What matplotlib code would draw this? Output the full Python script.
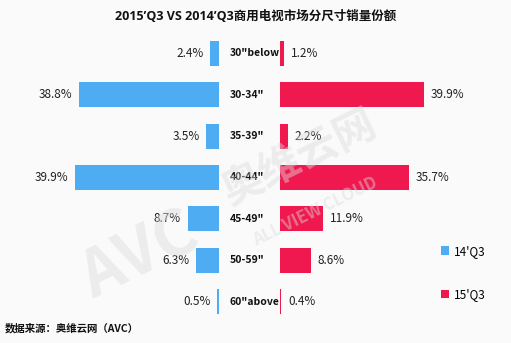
import matplotlib.pyplot as plt
from matplotlib import transforms

plt.rcParams['font.family'] = ['Noto Sans CJK SC', 'DejaVu Sans']

sizes = ['30"below', '30-34"', '35-39"', '40-44"', '45-49"', '50-59"', '60"above']
share_14q3 = [2.4, 38.8, 3.5, 39.9, 8.7, 6.3, 0.5]
share_15q3 = [1.2, 39.9, 2.2, 35.7, 11.9, 8.6, 0.4]
labels = ["14'Q3", "15'Q3"]

blue = '#4eacf2'
red = '#f0194f'
bg = '#fafafa'

W, H = 511, 343
fig = plt.figure(figsize=(W / 100, H / 100), dpi=100, facecolor=bg)

# axes in pixel terms -> figure fractions
top, bottom = 32.8, 322.2
ax_l = fig.add_axes([19 / W, (H - bottom) / H, 200 / W, (bottom - top) / H])
ax_r = fig.add_axes([280 / W, (H - bottom) / H, 200 / W, (bottom - top) / H])

y = list(range(len(sizes)))
bl = ax_l.barh(y, share_14q3, height=0.6, color=blue, label=labels[0])
br = ax_r.barh(y, share_15q3, height=0.6, color=red, label=labels[1])

ax_l.set_xlim(55.4, 0)
ax_r.set_xlim(0, 55.4)
for ax in (ax_l, ax_r):
    ax.set_ylim(len(sizes) - 0.5, -0.5)
    ax.axis('off')
    ax.patch.set_alpha(0)

ax_l.bar_label(bl, labels=[f'{v}%' for v in share_14q3], padding=5, fontsize=8.5, color='#222222')
ax_r.bar_label(br, labels=[f'{v}%' for v in share_15q3], padding=5, fontsize=8.5, color='#222222')

tr = transforms.blended_transform_factory(fig.transFigure, ax_l.transData)
for i, s in enumerate(sizes):
    fig.text(230 / W, i, s, transform=tr, ha='left', va='center',
             fontsize=7.5, fontweight='bold', color='#111111')

fig.text(0.5, 1 - 17 / H, "2015\u2019Q3 VS 2014\u2019Q3商用电视市场分尺寸销量份额",
         ha='center', va='center', fontsize=9, fontweight='bold', color='#111111',
         family=['Open Sans', 'Noto Sans CJK SC'])
fig.text(5 / W, 1 - 328 / H, "数据来源：奥维云网（AVC）", ha='left', va='center',
         fontsize=7.5, fontweight='bold', color='#111111')

fig.legend(handles=[bl, br], loc='upper left', bbox_to_anchor=(430 / W, 1 - 234 / H),
           frameon=False, fontsize=8.5, handlelength=0.7, handleheight=0.7,
           handletextpad=0.4, labelspacing=2.6)

# watermark drawn over everything, semi transparent
wm = dict(color='#dcdcdc', alpha=0.45, ha='center', va='center', rotation=26,
          fontweight='bold', zorder=10)
fig.text(140 / W, 1 - 255 / H, "AVC", fontsize=46, **wm)
fig.text(300 / W, 1 - 158 / H, "奥维云网", fontsize=30, **wm)
fig.text(315 / W, 1 - 212 / H, "ALL VIEW CLOUD", fontsize=12, **wm)

fig.savefig('out.png', dpi=100, facecolor=bg)
